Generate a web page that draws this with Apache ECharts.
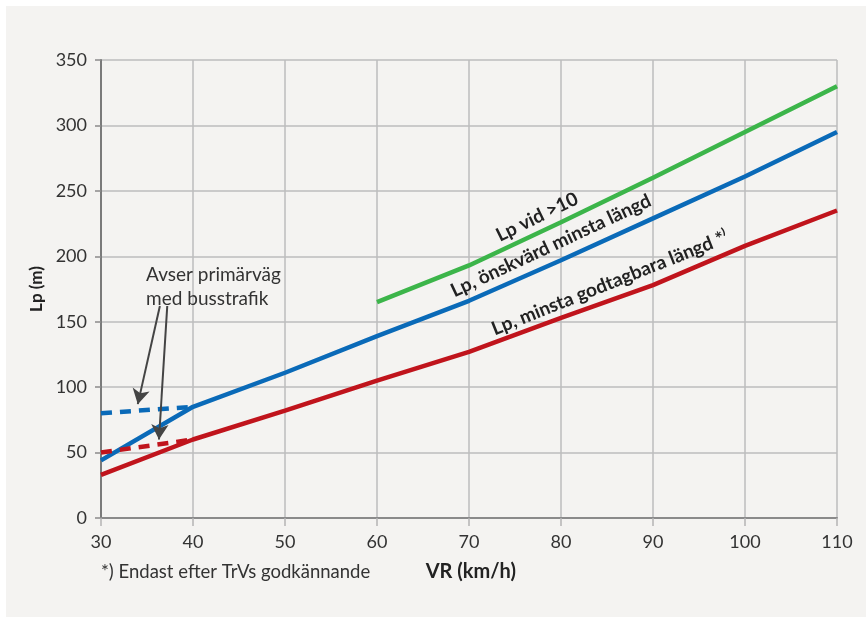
<!DOCTYPE html>
<html><head><meta charset="utf-8">
<script src="https://cdn.jsdelivr.net/npm/echarts@6/dist/echarts.min.js"></script>
<style>
html,body{margin:0;padding:0;background:#fff;}
#c{position:absolute;left:0;top:0;width:866px;height:617px;}
</style></head>
<body><div id="c"></div>
<script>
// Data (x = VR km/h, y = Lp m)
const speeds = [30, 40, 50, 60, 70, 80, 90, 100, 110];
const blueVals = [44, 85, 111, 139, 166, 197, 229, 261, 295];
const redVals = [33, 60, 82, 105, 127, 153, 178, 208, 235];
const greenSpeeds = [60, 70, 80, 90, 100, 110];
const greenVals = [165, 193, 226, 260, 295, 330];
const blueDashSpeeds = [30, 40];
const blueDashVals = [80, 85];
const redDashSpeeds = [30, 40];
const redDashVals = [50, 60];
const yTicks = [0, 50, 100, 150, 200, 250, 300, 350];
const xTicks = [30, 40, 50, 60, 70, 80, 90, 100, 110];

const pairs = (xs, ys) => xs.map((x, i) => [x, ys[i]]);
const FONT = 'Lato, "Open Sans", sans-serif';
const chart = echarts.init(document.getElementById('c'), null, {renderer: 'canvas'});

const arrowStyle = {color: '#444', width: 2, type: 'solid'};
const option = {
  backgroundColor: 'transparent',
  animation: false,
  graphic: [{type: 'rect', z: -10, shape: {x: 6, y: 6, width: 860, height: 611}, style: {fill: '#f4f3f1'}}],
  grid: {left: 101, right: 29, top: 60, bottom: 99},
  xAxis: {
    type: 'value', min: 30, max: 110, interval: 10,
    axisLine: {show: true, onZero: false, lineStyle: {color: '#8a8a8a', width: 2}},
    axisTick: {show: true, length: 8, lineStyle: {color: '#b4b4b4', width: 1.5}},
    axisLabel: {color: '#333', fontSize: 18, fontFamily: FONT, margin: 15},
    splitLine: {show: true, lineStyle: {color: '#bcbcbc', width: 1.5}}
  },
  yAxis: {
    type: 'value', min: 0, max: 350, interval: 50,
    name: 'Lp (m)', nameLocation: 'middle', nameGap: 56, nameRotate: 90,
    nameTextStyle: {color: '#222', fontSize: 17, fontWeight: 'bold', fontFamily: FONT},
    axisLine: {show: true, lineStyle: {color: '#7a7a7a', width: 2}},
    axisTick: {show: true, length: 6, lineStyle: {color: '#8a8a8a', width: 1.5}},
    axisLabel: {color: '#333', fontSize: 18, fontFamily: FONT, margin: 14},
    splitLine: {show: true, lineStyle: {color: '#bcbcbc', width: 1.5}}
  },
  series: [
    {type: 'line', data: pairs(greenSpeeds, greenVals), symbol: 'none', lineStyle: {color: '#3cb54a', width: 4.5}, z: 3},
    {type: 'line', data: pairs(speeds, blueVals), symbol: 'none', lineStyle: {color: '#0a6ab8', width: 4.5}, z: 3},
    {type: 'line', data: pairs(speeds, redVals), symbol: 'none', lineStyle: {color: '#c0141c', width: 4.5}, z: 3},
    {type: 'line', data: pairs(blueDashSpeeds, blueDashVals), symbol: 'none', lineStyle: {color: '#0a6ab8', width: 4.5, type: [11, 8]}, z: 3},
    {type: 'line', data: pairs(redDashSpeeds, redDashVals), symbol: 'none', lineStyle: {color: '#c0141c', width: 4.5, type: [11, 8]}, z: 3,
     markLine: {
       silent: true, symbol: ['none', 'arrow'], symbolSize: [13, 15], label: {show: false},
       lineStyle: arrowStyle, z: 5,
       data: [
         [{coord: [36.4, 162]}, {coord: [34.0, 87]}],
         [{coord: [37.2, 162]}, {coord: [36.3, 60]}]
       ]
     }}
  ]
};
chart.setOption(option);

function px(x, y) { return chart.convertToPixel({gridIndex: 0}, [x, y]); }
const g = [];
function addText(x, y, text, rot, opts) {
  const p = px(x, y);
  g.push(Object.assign({
    type: 'text', x: p[0], y: p[1], rotation: rot * Math.PI / 180, z: 10,
    style: Object.assign({text: text, fill: '#222', font: 'bold 19px ' + FONT, align: 'center', verticalAlign: 'middle'}, opts || {})
  }));
}
addText(77.4, 230, 'Lp vid >10', 26);
addText(78.9, 208, 'Lp, önskvärd minsta längd', 25);
addText(85.3, 179.5, 'Lp, minsta godtagbara längd *⁾', 21.7);
// annotation text
const a = px(34.9, 195);
g.push({type: 'text', x: a[0], y: a[1], z: 10, style: {text: 'Avser primärväg\nmed busstrafik', fill: '#333', font: '19px ' + FONT, lineHeight: 24, align: 'left', verticalAlign: 'top'}});
const f = px(30, 0);
g.push({type: 'text', x: f[0], y: 572, z: 10, style: {text: '*) Endast efter TrVs godkännande', fill: '#333', font: '18.5px ' + FONT, align: 'left', verticalAlign: 'middle'}});
const v = px(70.2, 0);
g.push({type: 'text', x: v[0], y: 572, z: 10, style: {text: 'VR (km/h)', fill: '#222', font: 'bold 20px ' + FONT, align: 'center', verticalAlign: 'middle'}});
chart.setOption({graphic: option.graphic.concat(g)});
</script>
</body></html>
